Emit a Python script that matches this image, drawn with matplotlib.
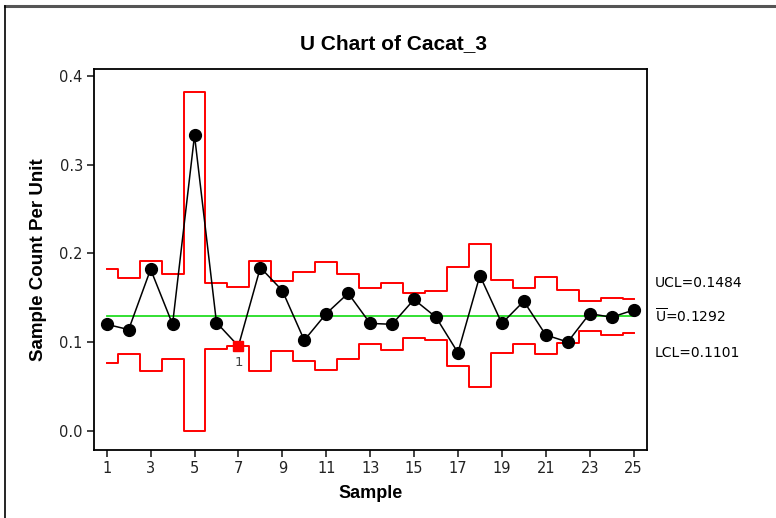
import numpy as np
import matplotlib
matplotlib.use("Agg")
import matplotlib.pyplot as plt
from matplotlib.lines import Line2D

# Per-sample defect rate and its control limits
samples = list(range(1, 26))
u_values = [0.120, 0.114, 0.182, 0.120, 0.333, 0.122, 0.0954, 0.184, 0.158, 0.102,
            0.132, 0.155, 0.121, 0.120, 0.148, 0.128, 0.088, 0.175, 0.121, 0.146,
            0.108, 0.100, 0.132, 0.128, 0.136]
ucl = [0.182, 0.172, 0.191, 0.177, 0.382, 0.167, 0.1626, 0.191, 0.169, 0.179,
       0.190, 0.177, 0.161, 0.167, 0.155, 0.157, 0.185, 0.210, 0.170, 0.161,
       0.173, 0.159, 0.146, 0.150, 0.1484]
lcl = [0.076, 0.087, 0.067, 0.081, 0.0, 0.092, 0.0958, 0.067, 0.090, 0.079,
       0.069, 0.081, 0.098, 0.091, 0.104, 0.102, 0.073, 0.049, 0.088, 0.098,
       0.086, 0.099, 0.112, 0.108, 0.1101]
u_bar = 0.1292
flagged = [7]          # samples failing test 1
flag_label = "1"

plt.rcParams['font.family'] = ['DejaVu Sans']
plt.rcParams['mathtext.fontset'] = 'dejavusans'
bold_font = ['Liberation Sans Narrow', 'Liberation Sans', 'DejaVu Sans']

fig = plt.figure(figsize=(7.76, 5.18), dpi=100)
ax = fig.add_axes([0.1211, 0.1307, 0.7123, 0.7361])

x = np.array(samples)
ax.step(x, ucl, where='mid', color='#ff0000', lw=1.4, zorder=2)
ax.step(x, lcl, where='mid', color='#ff0000', lw=1.4, zorder=2)
ax.plot([x[0], x[-1]], [u_bar, u_bar], color='#22dd22', lw=1.3, zorder=2)

# connecting line, then round markers for in-control points only
ax.plot(x, u_values, color='black', lw=1.1, zorder=3)
ok = [i for i, s in enumerate(samples) if s not in flagged]
ax.plot(x[ok], np.array(u_values)[ok], color='black', marker='o', ms=8.5,
        ls='none', zorder=3)
for s in flagged:
    i = samples.index(s)
    ax.plot(s, u_values[i], marker='s', ms=7.5, color='#ff0000',
            ls='none', zorder=4)
    ax.annotate(flag_label, (s, u_values[i]), xytext=(0, -11.5),
                textcoords='offset points', ha='center', va='center',
                fontsize=9.5, color='#444444')

ax.set_xlim(0.42, 25.6)
ax.set_ylim(-0.0221, 0.4079)
ax.set_xticks(samples[::2])
ax.set_yticks([0.0, 0.1, 0.2, 0.3, 0.4])
ax.set_yticklabels(['0.0', '0.1', '0.2', '0.3', '0.4'])
ax.tick_params(direction='out', length=5, width=1.2, labelsize=10.5,
               colors='#222222', pad=3)
for sp in ax.spines.values():
    sp.set_linewidth(1.3)

ax.set_xlabel('Sample', fontsize=13, fontweight='bold', labelpad=6,
              family=bold_font)
ax.set_ylabel('Sample Count Per Unit', fontsize=13.5, fontweight='bold',
              labelpad=9, family=bold_font)
fig.text(0.507, 0.915, 'U Chart of Cacat_3', ha='center', va='center',
         fontsize=15, fontweight='bold', family=bold_font)

# limit labels to the right of the plot area
tr = ax.get_yaxis_transform()
ax.annotate('UCL=0.1484', (1.0, ucl[-1]), xycoords=tr, xytext=(6, 11.5),
            textcoords='offset points', fontsize=10, va='center', ha='left')
ax.annotate(r'$\overline{\mathrm{U}}$=0.1292', (1.0, u_bar), xycoords=tr,
            xytext=(6, 0), textcoords='offset points', fontsize=10,
            va='center', ha='left')
ax.annotate('LCL=0.1101', (1.0, lcl[-1]), xycoords=tr, xytext=(6, -14.5),
            textcoords='offset points', fontsize=10, va='center', ha='left')

# outer frame of the graph window
fig.add_artist(Line2D([5 / 776, 1], [1 - 6 / 518, 1 - 6 / 518],
                      transform=fig.transFigure, color='#555555', lw=2.2))
fig.add_artist(Line2D([5 / 776, 5 / 776], [0, 1 - 6 / 518],
                      transform=fig.transFigure, color='black', lw=1.2))

fig.savefig('out.png', dpi=100)
